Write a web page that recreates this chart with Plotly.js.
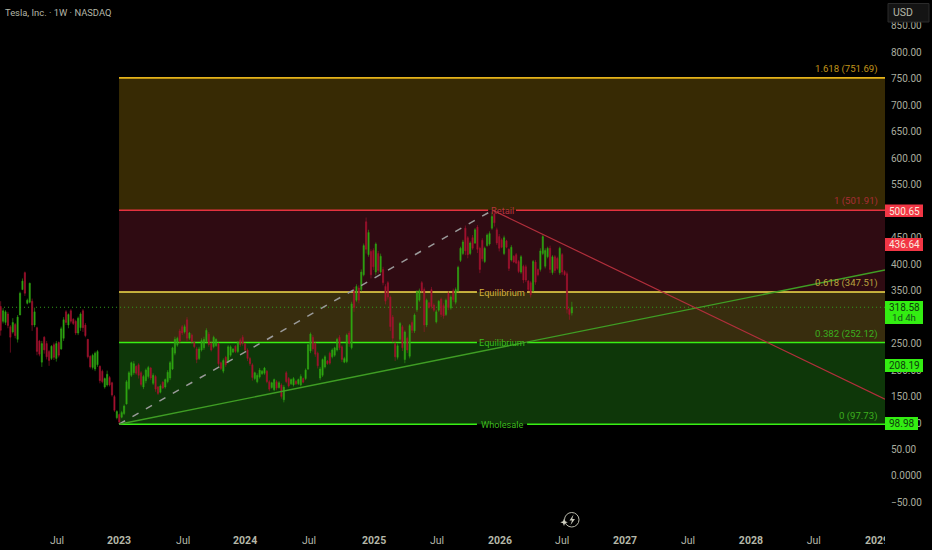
<!DOCTYPE html>
<html>
<head>
<meta charset="utf-8">
<script src="https://cdn.plot.ly/plotly-3.0.1.min.js"></script>
<style>html,body{margin:0;padding:0;background:#000}#c{width:932px;height:550px}</style>
</head>
<body>
<div id="c"></div>
<script>
// Weekly OHLC (ten bars per row)
const open = [
320,292,290,306,282,272,286,258,304,352,
384,326,328,330,285,280,255,215,262,250,
235,222,248,222,252,240,260,310,285,312,
296,292,270,280,312,285,258,226,205,202,
210,207,198,168,172,186,176,150,110,116,
111,118,136,165,190,195,207,210,195,168,
180,188,204,175,188,168,158,177,168,178,
185,202,232,247,274,282,272,295,260,266,
252,240,222,238,242,254,268,250,244,246,
250,214,198,224,216,228,234,245,235,257,
262,250,238,222,210,184,178,187,193,194,
198,178,167,163,178,167,172,144,195,184,
174,172,179,174,172,184,184,202,236,262,
250,232,185,190,206,217,232,225,228,238,
262,244,215,216,270,242,350,332,355,352,
380,480,418,424,426,385,420,385,390,358,
365,338,300,250,224,258,282,220,260,226,
290,274,314,332,365,352,285,327,352,323,
291,313,334,322,305,345,317,350,328,350,
407,420,468,450,420,450,440,470,430,445,
405,435,438,468,495,465,452,446,420,444,
428,408,415,418,405,385,396,395,368,365,
350,404,390,390,420,396,414,430,384,414,
411,384,418,386,382,315,308];
const high = [
330,317,313,310,285,298,289,304,348,373,
386,335,365,335,318,282,257,255,264,255,
238,247,252,255,254,282,300,313,307,315,
298,295,301,309,315,289,259,228,231,235,
238,209,201,186,199,189,178,153,124,118,
123,135,181,198,216,217,209,213,198,191,
203,208,206,194,191,170,173,179,184,200,
217,244,263,263,278,285,286,300,272,269,
254,244,244,260,263,279,272,254,265,260,
252,216,222,227,247,247,241,247,255,260,
266,252,241,225,213,197,194,204,200,206,
200,181,178,184,181,179,175,172,198,187,
184,187,181,184,192,186,203,250,271,266,
254,235,206,222,228,219,235,241,244,261,
266,247,225,269,274,329,357,362,360,390,
439,488,465,428,430,441,425,420,395,362,
368,341,304,253,250,291,285,275,263,287,
294,307,351,354,368,356,335,329,357,326,
314,332,337,326,335,349,341,354,356,397,
433,446,473,453,443,455,468,474,433,449,
433,458,462,498,503,469,457,449,454,446,
430,436,417,421,408,417,399,399,370,368,
408,408,392,430,455,430,433,435,417,417,
414,433,421,389,386,317,329];
const low = [
265,288,285,279,233,269,260,252,304,351,
340,324,326,274,281,228,226,206,231,220,
208,219,219,216,224,238,255,285,279,288,
285,266,266,274,272,262,222,203,201,198,
206,175,175,165,169,169,150,121,107,99,
109,115,135,162,187,191,191,184,169,164,
175,184,181,172,159,153,156,164,165,175,
181,200,228,244,250,266,269,254,257,250,
241,213,219,235,238,250,244,235,241,244,
208,200,194,206,213,225,232,232,232,244,
246,235,217,208,180,181,175,184,191,191,
175,160,165,160,162,165,146,139,175,167,
172,169,172,172,169,175,181,200,232,235,
225,203,181,187,203,210,210,222,225,235,
238,215,213,213,244,239,310,329,326,348,
377,420,414,373,389,379,382,382,360,324,
333,274,252,217,220,255,236,213,232,222,
270,270,310,329,346,272,281,316,316,310,
288,310,300,297,302,313,314,329,324,347,
404,417,417,411,417,427,438,421,383,405,
402,433,435,465,471,436,424,430,417,430,
387,405,402,400,383,382,364,366,349,337,
347,361,377,386,417,392,411,383,380,383,
389,380,380,378,307,295,303];
const close = [
275,312,310,284,262,290,265,300,345,368,
345,332,364,285,310,235,230,250,238,225,
218,245,224,250,228,278,295,290,305,292,
288,270,298,306,280,265,225,206,228,232,
235,180,178,184,192,172,153,124,122,102,
120,132,178,195,214,212,194,190,173,188,
200,205,185,190,164,156,170,166,182,196,
214,242,258,260,255,270,282,260,270,254,
244,220,240,256,258,275,248,238,262,258,
212,203,218,210,244,244,240,235,252,248,
250,238,222,212,186,195,190,200,198,204,
178,164,176,182,166,176,150,168,178,170,
182,184,174,182,188,177,200,248,268,240,
230,208,202,220,225,212,213,238,242,258,
242,220,222,266,250,325,318,358,332,385,
435,428,460,380,395,438,388,415,365,330,
338,282,260,225,246,288,242,272,238,284,
275,304,348,350,350,285,332,318,320,313,
310,330,305,302,332,318,338,333,352,394,
430,442,425,418,440,430,465,428,390,410,
430,455,458,490,478,440,430,432,450,432,
392,432,404,402,386,414,370,370,352,342,
405,366,380,425,452,426,430,390,414,388,
392,430,385,380,315,305,318.58];
const weeks = close.map((_, i) => i);

const xTickPos = [23.3,48.9,75.4,101,127.4,154.3,180.3,206.3,232,258,284,310,336,362.1];
const xTickText = ['Jul','<b>2023</b>','Jul','<b>2024</b>','Jul','<b>2025</b>','Jul','<b>2026</b>','Jul','<b>2027</b>','Jul','<b>2028</b>','Jul','<b>2029</b>'];
const yTickVals = [850,800,750,700,650,600,550,450,400,350,250,200,150,100,50,0,-50];
const yTickText = ['850.00','800.00','750.00','700.00','650.00','600.00','550.00','450.00','400.00','350.00','250.00','200.00','150.00','100.00','50.00','0.0000','\u221250.00'];

const fibPrices = [751.69,501.91,347.51,252.12,97.73];
const lastPrice = 318.58;
const startWeek = 48.9, peakWeek = 203.3, endWeek = 365.4;
const diagPeak = 501.91, diagBase = 97.73, upEnd = 389, downEnd = 145;

const W = 885, H = 528;
const px = x => x / W, py = y => 1 - y / H;

function paperRect(x0, y0, x1, y1, fill, line) {
  return {type:'rect', xref:'paper', yref:'paper', x0:px(x0), x1:px(x1), y0:py(y0), y1:py(y1),
          fillcolor:fill, line:{width:line?1:0, color:line||fill}, layer:'above'};
}
function zone(p0, p1, fill) {
  return {type:'rect', xref:'x', yref:'y', x0:startWeek, x1:endWeek, y0:p0, y1:p1, fillcolor:fill, line:{width:0}, layer:'below'};
}
function level(p, a, b, color, w) {
  return {type:'line', xref:'x', yref:'y', x0:a, x1:b, y0:p, y1:p, line:{color:color, width:w||1.6}, layer:'below'};
}
const gapA = 196.8, gapB = 217.5;
const shapes = [
  zone(fibPrices[0], fibPrices[1], '#372a04'),
  zone(fibPrices[1], fibPrices[2], '#2f0b12'),
  zone(fibPrices[2], fibPrices[3], '#382d0e'),
  zone(fibPrices[3], fibPrices[4], '#0e3709'),
  level(fibPrices[0], startWeek, endWeek, '#e6b31a'),
  level(fibPrices[1], startWeek, 201.4, '#e5323f'),
  level(fibPrices[1], 212.9, endWeek, '#e5323f'),
  level(fibPrices[2], startWeek, gapA, '#f4e04d'),
  level(fibPrices[2], gapB, endWeek, '#f4e04d'),
  level(fibPrices[3], startWeek, gapA, '#38f014'),
  level(fibPrices[3], gapB, endWeek, '#38f014'),
  level(fibPrices[4], startWeek, gapA, '#38f014'),
  level(fibPrices[4], gapB, endWeek, '#38f014'),
  {type:'line', xref:'x', yref:'y', x0:-0.28, x1:endWeek, y0:lastPrice, y1:lastPrice, line:{color:'#2f9a1a', width:1, dash:'1px,3px'}, layer:'below'},
  paperRect(885, 528, 932, 550, '#000000'),
  paperRect(885, 204.5, 923, 217, '#f23645'),
  paperRect(885, 238, 923, 251, '#f23645'),
  paperRect(885, 301, 923, 324, '#33ee12'),
  paperRect(885, 359, 923, 372, '#33ee12'),
  paperRect(885, 417, 918, 430, '#33ee12'),
  paperRect(888, 3.5, 929, 22, '#141414', '#2b2b2b'),
  {type:'circle', xref:'paper', yref:'paper', x0:px(564.5), x1:px(579), y0:py(527), y1:py(512.5), line:{color:'#b8b8aa', width:1}, layer:'above', fillcolor:'rgba(0,0,0,0)'},
  {type:'path', xref:'paper', yref:'paper', layer:'above', line:{width:0}, fillcolor:'#c8c8ba',
   path:`M ${px(573.5)} ${py(514.5)} L ${px(569.5)} ${py(520.5)} L ${px(572)} ${py(520.5)} L ${px(570.5)} ${py(525)} L ${px(575)} ${py(519)} L ${px(572.3)} ${py(519)} Z`},
  {type:'path', xref:'paper', yref:'paper', layer:'above', line:{width:0}, fillcolor:'#d0d0c2',
   path:`M ${px(564)} ${py(518.5)} L ${px(565)} ${py(521.3)} L ${px(567.8)} ${py(522.3)} L ${px(565)} ${py(523.3)} L ${px(564)} ${py(526)} L ${px(563)} ${py(523.3)} L ${px(560.3)} ${py(522.3)} L ${px(563)} ${py(521.3)} Z`}
];

function note(text, x, y, color, anchor, size) {
  return {text, xref:'paper', yref:'paper', x:px(x), y:py(y), xanchor:anchor||'center', yanchor:'middle',
          showarrow:false, font:{family:'Roboto, sans-serif', size:size||9.6, color}};
}
const annotations = [
  note('Tesla, Inc. \u00b7 1W \u00b7 NASDAQ', 3, 12.5, '#b4b7a8', 'left', 9.4),
  note('USD', 891, 12.5, '#b4b7a8', 'left', 10.5),
  note('1.618 (751.69)', 880, 69, '#c2951a', 'right'),
  note('1 (501.91)', 880, 201, '#a82d35', 'right'),
  note('0.618 (347.51)', 880, 283, '#b7a23e', 'right'),
  note('0.382 (252.12)', 880, 333.5, '#3cae1e', 'right'),
  note('0 (97.73)', 880, 415.5, '#3cae1e', 'right'),
  note('Retail', 502, 210.5, '#b5353c', 'center', 9.3),
  note('Equilibrium', 502, 292, '#d4b23e', 'center', 9.2),
  note('Equilibrium', 502, 342.5, '#3dbb1e', 'center', 9.2),
  note('Wholesale', 502, 424.5, '#3dbb1e', 'center', 9.2),
  note('500.65', 904, 211, '#fbe9dd', 'center', 10),
  note('436.64', 904, 244.5, '#fbe9dd', 'center', 10),
  note('318.58', 904, 307.5, '#0d3d0d', 'center', 10),
  note('1d 4h', 904, 317.5, '#14501a', 'center', 9.6),
  note('208.19', 904, 365.5, '#0d3d0d', 'center', 10),
  note('98.98', 901.5, 423.5, '#0d3d0d', 'center', 10)
];

const traces = [
  {type:'scatter', mode:'lines', x:[startWeek, peakWeek], y:[diagBase, diagPeak], line:{color:'#9a9a9a', width:1.5, dash:'7px,8.5px'}, hoverinfo:'skip', showlegend:false},
  {type:'scatter', mode:'lines', x:[startWeek, endWeek], y:[diagBase, upEnd], line:{color:'#3f9e24', width:1.4}, hoverinfo:'skip', showlegend:false},
  {type:'scatter', mode:'lines', x:[peakWeek, endWeek], y:[diagPeak, downEnd], line:{color:'#b22f3c', width:1.2}, hoverinfo:'skip', showlegend:false},
  {type:'candlestick', x:weeks, open, high, low, close, whiskerwidth:0,
   increasing:{line:{color:'#2fa612', width:0.6}, fillcolor:'#2fa612'},
   decreasing:{line:{color:'#a5122f', width:0.6}, fillcolor:'#a5122f'},
   hoverinfo:'skip', showlegend:false}
];

const layout = {
  width:932, height:550,
  margin:{l:0, r:47, t:0, b:22, pad:0},
  paper_bgcolor:'#000000', plot_bgcolor:'#000000',
  showlegend:false,
  font:{family:'Roboto, sans-serif', size:10, color:'#a9ac9e'},
  xaxis:{range:[-0.28, endWeek], tickmode:'array', tickvals:xTickPos, ticktext:xTickText, showgrid:false, zeroline:false, showline:false, ticks:'', ticklabelstandoff:4, rangeslider:{visible:false}, tickfont:{size:10.5, color:'#b4b7a8'}},
  yaxis:{range:[-98.2, 898.8], side:'right', tickmode:'array', tickvals:yTickVals, ticktext:yTickText, showgrid:false, zeroline:false, showline:false, ticks:'', ticklabelstandoff:5, tickfont:{size:10, color:'#a9ac9e'}},
  shapes, annotations
};
Plotly.newPlot('c', traces, layout, {staticPlot:true, displayModeBar:false});
</script>
</body>
</html>
